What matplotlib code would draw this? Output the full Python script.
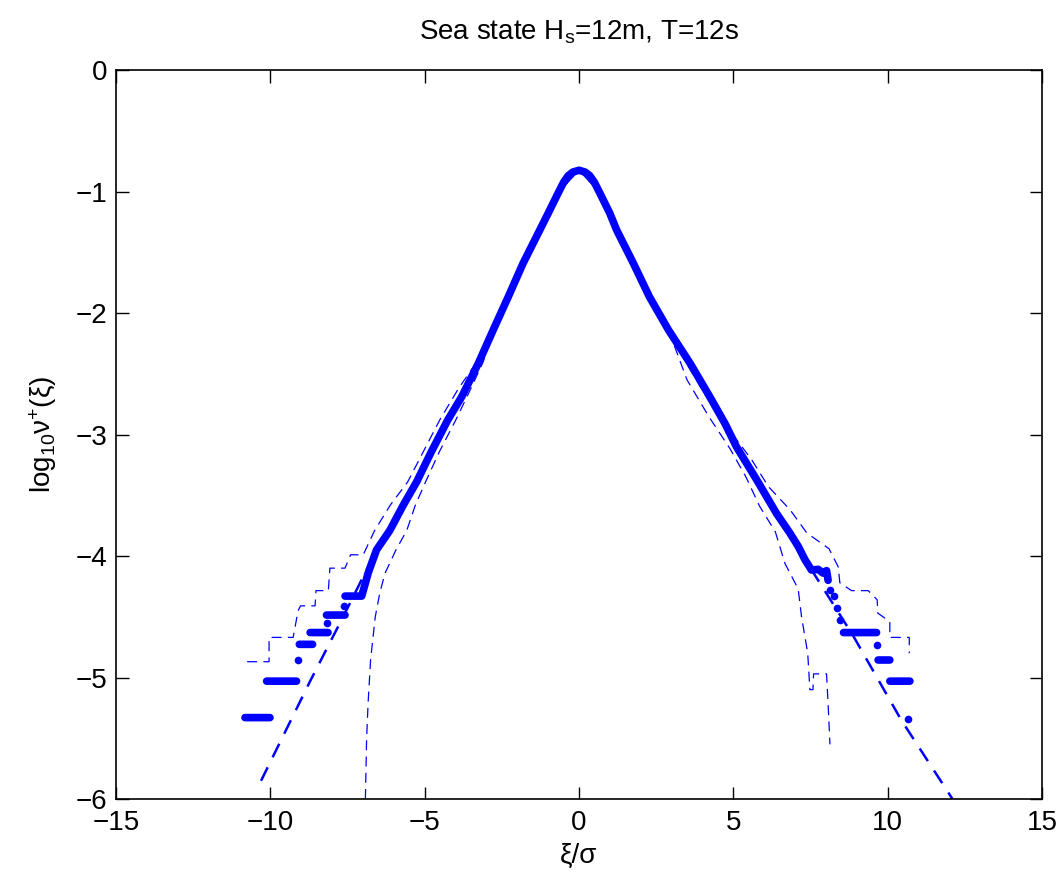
import numpy as np
import matplotlib
matplotlib.use('Agg')
import matplotlib.pyplot as plt

plt.rcParams['font.family'] = ['Liberation Sans', 'DejaVu Sans']
plt.rcParams['mathtext.fontset'] = 'custom'
plt.rcParams['mathtext.rm'] = 'Liberation Sans'
plt.rcParams['mathtext.it'] = 'Liberation Sans'

nan = np.nan

# empirical level-crossing rate (thick dots), NaN separates the plateaus
emp_x = [-10.82, -10.01, nan, -10.12, -9.15, nan, -9.1, nan, -9.06, -8.63, nan,
         -8.71, -8.13, nan, -8.16, nan, -8.18, -7.58, nan, -7.61, nan,
         -7.58, -7.04, -6.95, -6.83, -6.56, -6.13, -5.69, -5.26, -4.78, -4.25, -3.80, -3.26,
         -2.78, -2.29, -1.81, -1.27, -1.0, -0.67, -0.5, -0.35, -0.2, 0.0, 0.2, 0.35, 0.5, 0.67,
         1.0, 1.22, 1.76, 2.28, 2.90, 3.60, 4.24, 4.73, 5.10, 5.75, 6.40, 6.83, 7.10, 7.32,
         7.53, 7.75, 7.9, 8.02, 8.07, nan, 8.13, nan, 8.25, nan, 8.35, nan, 8.46, nan,
         8.57, 9.64, nan, 9.66, nan, 9.69, 10.07, nan, 10.07, 10.72, nan, 10.67]
emp_y = [-5.33, -5.33, nan, -5.03, -5.03, nan, -4.856, nan, -4.727, -4.727, nan,
         -4.63, -4.63, nan, -4.55, nan, -4.486, -4.486, nan, -4.41, nan,
         -4.33, -4.33, -4.25, -4.14, -3.95, -3.79, -3.58, -3.39, -3.14, -2.88, -2.69, -2.414,
         -2.14, -1.866, -1.59, -1.317, -1.18, -1.01, -0.925, -0.87, -0.84, -0.825, -0.84, -0.87, -0.925, -1.01,
         -1.18, -1.317, -1.59, -1.866, -2.14, -2.414, -2.69, -2.91, -3.10, -3.37, -3.65, -3.81, -3.92, -4.03,
         -4.115, -4.11, -4.14, -4.12, -4.20, nan, -4.28, nan, -4.33, nan, -4.43, nan, -4.53, nan,
         -4.63, -4.63, nan, -4.73, nan, -4.856, -4.856, nan, -5.03, -5.03, nan, -5.34]

# fitted model (thick dashed)
fit_x = [-10.3, -8.71, -7.58, -6.5, -6.13, -5.69, -5.26, -4.78, -4.25, -3.80, -3.26, -2.78, -2.29,
         -1.81, -1.27, -0.67, -0.35, 0.0, 0.35, 0.67, 1.22, 1.76, 2.28, 2.90, 3.60, 4.24,
         4.73, 5.10, 5.75, 6.40, 6.83, 7.5, 8.89, 10.44, 12.1]
fit_y = [-5.85, -5.03, -4.47, -3.92, -3.79, -3.58, -3.39, -3.14, -2.88, -2.69, -2.414, -2.14, -1.866,
         -1.59, -1.317, -1.01, -0.87, -0.825, -0.87, -1.01, -1.317, -1.59, -1.866, -2.14, -2.414, -2.69,
         -2.91, -3.10, -3.37, -3.65, -3.81, -4.1, -4.66, -5.35, -6.0]

# confidence bounds (thin dashed)
upper_x = [-10.75, -10.04, -10.04, -9.26, -9.1, -9.02, -8.55, -8.52, -8.12, -8.07, -7.58,
           -7.4, -6.99, -6.62, -6.11, -5.55, -5.04, -4.51, -3.9, -3.3, -2.78, -1.81, -0.67, 0.0,
           0.67, 1.76, 2.90, 3.5, 4.2, 4.98, 5.60, 6.14, 6.84, 7.38, 8.10, 8.40, 8.45, 8.83, 9.37,
           9.66, 9.68, 10.07, 10.07, 10.7, 10.7]
upper_y = [-4.87, -4.87, -4.67, -4.67, -4.45, -4.41, -4.41, -4.285, -4.285, -4.10, -4.10,
           -3.99, -3.99, -3.79, -3.58, -3.39, -3.14, -2.88, -2.62, -2.40, -2.14, -1.59, -1.01, -0.825,
           -1.01, -1.59, -2.14, -2.42, -2.72, -3.0, -3.21, -3.43, -3.62, -3.81, -3.94, -4.09, -4.22,
           -4.285, -4.285, -4.36, -4.47, -4.54, -4.67, -4.67, -4.80]
lower_x = [-6.92, -6.88, -6.83, -6.75, -6.6, -6.45, -6.28, -5.93, -5.58, -5.30, -4.97, -4.52,
           -3.99, -3.5, -3.1, -2.78, -1.81, -0.67, 0.0, 0.67, 1.76, 2.90, 3.5, 4.2, 4.90, 5.41, 5.85,
           6.36, 6.67, 7.10, 7.21, 7.41, 7.48, 7.58, 7.6, 8.02, 8.08, 8.13]
lower_y = [-6.0, -5.5, -5.2, -4.85, -4.5, -4.3, -4.14, -3.95, -3.79, -3.58, -3.39, -3.14,
           -2.88, -2.62, -2.40, -2.14, -1.59, -1.01, -0.825, -1.01, -1.59, -2.14, -2.55, -2.85, -3.12,
           -3.35, -3.59, -3.80, -4.06, -4.27, -4.50, -4.8, -5.10, -5.10, -4.97, -4.97, -5.27, -5.55]

blue = '#0000ff'

fig = plt.figure(figsize=(10.61, 8.74), dpi=100)
ax = fig.add_axes([0.1093, 0.0858, 0.8728, 0.8341])

ax.plot(lower_x, lower_y, color=blue, lw=0.9, dashes=(8, 5))
ax.plot(upper_x, upper_y, color=blue, lw=0.9, dashes=(8, 5))
ax.plot(fit_x, fit_y, color=blue, lw=1.8, dashes=(6, 4.5))
ax.plot(emp_x, emp_y, color=blue, lw=5.5,
        solid_capstyle='round', solid_joinstyle='round')

# isolated samples (no neighbour on either side) drawn as dots
ex = np.array(emp_x)
ey = np.array(emp_y)
prev_nan = np.r_[True, np.isnan(ey[:-1])]
next_nan = np.r_[np.isnan(ey[1:]), True]
lone = prev_nan & next_nan & ~np.isnan(ey)
ax.plot(ex[lone], ey[lone], 'o', color=blue, ms=5.5, mew=0)

ax.set_xlim(-15, 15)
ax.set_ylim(-6, 0)
ax.set_xticks(np.arange(-15, 16, 5))
ax.set_yticks(np.arange(-6, 1, 1))
ax.set_xticklabels(['\u221215', '\u221210', '\u22125', '0', '5', '10', '15'])
ax.set_yticklabels(['\u22126', '\u22125', '\u22124', '\u22123', '\u22122', '\u22121', '0'])
ax.tick_params(direction='in', length=9, width=1, labelsize=20, top=True, right=True)
ax.tick_params(axis='x', pad=8)
ax.tick_params(axis='y', pad=6)
for s in ax.spines.values():
    s.set_linewidth(1.2)

ax.set_title('Sea state H$_{\\mathrm{s}}$=12m, T=12s', fontsize=20, pad=22)
ax.set_xlabel('\u03be/\u03c3', fontsize=20, labelpad=5)
ax.set_ylabel('log$_{10}$\u03bd$^{+}$(\u03be)', fontsize=20, labelpad=12)

fig.savefig('out.png', dpi=100)
